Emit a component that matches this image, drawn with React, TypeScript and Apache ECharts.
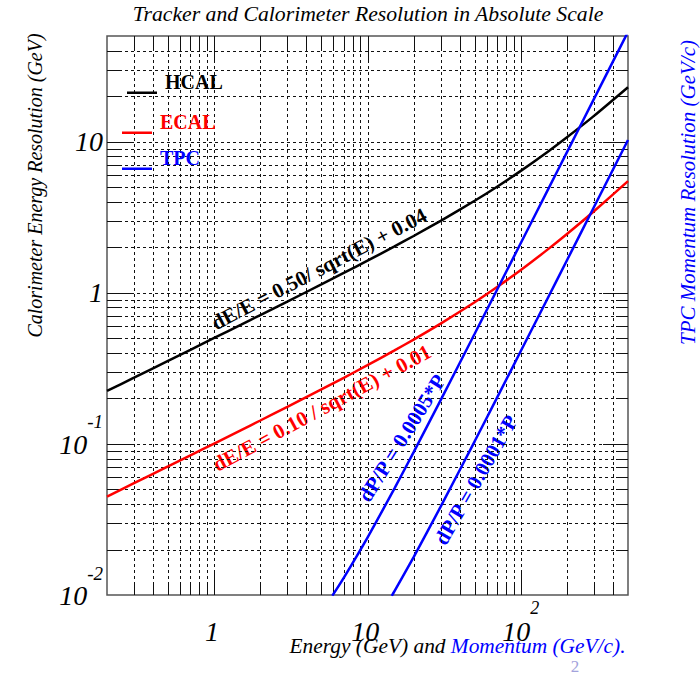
import React, { useEffect, useRef } from "react";
import * as echarts from "echarts";

// ---- data ----
const ENERGY = [0.2, 0.3, 0.5, 0.7, 1, 1.5, 2, 3, 5, 7, 10, 15, 20, 30, 50, 70, 100, 150, 200, 300, 500];
const HCAL_RES = [0.224, 0.274, 0.354, 0.419, 0.502, 0.615, 0.712, 0.874, 1.136, 1.352, 1.631, 2.027, 2.375, 2.99, 4.062, 5.034, 6.403, 8.573, 10.68, 14.8, 22.91];
const ECAL_RES = [0.0448, 0.0549, 0.0709, 0.084, 0.1005, 0.1234, 0.1428, 0.1758, 0.2291, 0.2737, 0.3317, 0.4153, 0.4899, 0.6245, 0.866, 1.091, 1.414, 1.937, 2.449, 3.464, 5.477];
const TPC_A_MOMENTUM = [5.9, 7, 10, 15, 20, 30, 50, 70, 100, 150, 200, 300, 500];
const TPC_A_RES = [0.0099, 0.013, 0.024, 0.0508, 0.0881, 0.1946, 0.5354, 1.047, 2.133, 4.795, 8.52, 19.17, 53.25];
const TPC_B_MOMENTUM = [14.4, 15, 20, 30, 50, 70, 100, 150, 200, 300, 500];
const TPC_B_RES = [0.00988, 0.0106, 0.0178, 0.0384, 0.104, 0.2024, 0.4115, 0.924, 1.642, 3.692, 10.25];

const X_MIN = 0.2;
const X_MAX = 500;
const Y_MIN = 0.01;
const Y_MAX = 50;

const X_MAJOR = [1, 10, 100];
const X_MINOR = [0.3, 0.4, 0.5, 0.6, 0.7, 0.8, 0.9, 2, 3, 4, 5, 6, 7, 8, 9, 20, 30, 40, 50, 60, 70, 80, 90, 200, 300, 400];
const Y_MAJOR = [0.1, 1, 10];
const Y_MINOR = [0.02, 0.03, 0.04, 0.05, 0.06, 0.07, 0.08, 0.09, 0.2, 0.3, 0.4, 0.5, 0.6, 0.7, 0.8, 0.9, 2, 3, 4, 5, 6, 7, 8, 9, 20, 30, 40];

const X_LABEL_TICKS = [1, 10, 100];
const X_LABEL_BASE = ["1", "10", "10"];
const X_LABEL_EXP = ["", "", "2"];
const Y_LABEL_TICKS = [0.01, 0.1, 1, 10];
const Y_LABEL_BASE = ["10", "10", "1", "10"];
const Y_LABEL_EXP = ["-2", "-1", "", ""];

const TITLE = "Tracker and Calorimeter Resolution in Absolute Scale";
const Y_TITLE = "Calorimeter Energy Resolution (GeV)";
const Y2_TITLE = "TPC Momentum Resolution (GeV/c)";
const X_TITLE_A = "Energy (GeV) and ";
const X_TITLE_B = "Momentum (GeV/c).";

const FONT = "'Liberation Serif', 'Times New Roman', serif";

function findIdx(ticks: number[], v: number) {
  for (let i = 0; i < ticks.length; i++) {
    if (Math.abs(v - ticks[i]) < ticks[i] * 1e-6) return i;
  }
  return -1;
}

function zip(xs: number[], ys: number[]) {
  return xs.map((x, i) => [x, ys[i]]);
}

const LEGEND_ICON = "path://M0,0L30,0L30,0.01L0,0.01Z M0,21.5L30,21.5L30,24L0,24Z";

export default function App() {
  const ref = useRef<HTMLDivElement>(null);
  useEffect(() => {
    if (!ref.current) return;
    const chart = echarts.init(ref.current, null, { renderer: "svg" });
    const labelItalic = { fontFamily: FONT, fontStyle: "italic", color: "#000" };
    const legendText = (color: string) => ({
      fontFamily: FONT, fontWeight: "bold", fontSize: 20, color, padding: [0, 0, 0, 3],
    });
    const option: any = {
      animation: false,
      backgroundColor: "#ffffff",
      title: {
        text: TITLE,
        left: 368,
        top: 3,
        textAlign: "center",
        padding: 0,
        textStyle: { fontFamily: FONT, fontStyle: "italic", fontWeight: "normal", fontSize: 21.7, color: "#000" },
      },
      grid: {
        left: 107,
        top: 36,
        width: 521,
        height: 559,
        show: true,
        borderColor: "#555",
        borderWidth: 1.5,
        backgroundColor: "transparent",
        containLabel: false,
        outerBoundsMode: "none",
      },
      xAxis: {
        type: "log",
        logBase: 10,
        min: X_MIN,
        max: X_MAX,
        axisLine: { show: false },
        axisTick: { show: false },
        splitLine: { show: false },
        axisLabel: {
          margin: 4,
          formatter: (v: number) => {
            const i = findIdx(X_LABEL_TICKS, v);
            if (i < 0) return "";
            return `{b|${X_LABEL_BASE[i]}}{s|${X_LABEL_EXP[i] || " "}}`;
          },
          rich: {
            b: { ...labelItalic, fontSize: 28, verticalAlign: "bottom" },
            s: { ...labelItalic, fontSize: 18, verticalAlign: "top", padding: [0, 0, 28, 0] },
          },
        },
        name: `{a|${X_TITLE_A}}{b|${X_TITLE_B}}`,
        nameLocation: "middle",
        nameGap: 40,
        nameMoveOverlap: false,
        nameTextStyle: {
          padding: [0, 0, 0, 180],
          rich: {
            a: { fontFamily: FONT, fontStyle: "italic", fontSize: 21.4, color: "#000" },
            b: { fontFamily: FONT, fontStyle: "italic", fontSize: 21.4, color: "#0000ff" },
          },
        },
      },
      yAxis: [
        {
          type: "log",
          logBase: 10,
          min: Y_MIN,
          max: Y_MAX,
          position: "left",
          axisLine: { show: false },
          axisTick: { show: false },
          splitLine: { show: false },
          axisLabel: {
            margin: 4,
            formatter: (v: number) => {
              const i = findIdx(Y_LABEL_TICKS, v);
              if (i < 0) return "";
              if (Y_LABEL_EXP[i]) return `{b|${Y_LABEL_BASE[i]}}{s|${Y_LABEL_EXP[i]}}`;
              return `{p|${Y_LABEL_BASE[i]}}`;
            },
            rich: {
              p: { ...labelItalic, fontSize: 28 },
              b: { ...labelItalic, fontSize: 28, verticalAlign: "bottom", padding: [0, 0, 17, 0] },
              s: { ...labelItalic, fontSize: 19, verticalAlign: "top", padding: [0, 0, 44, 0] },
            },
          },
          name: Y_TITLE,
          nameLocation: "middle",
          nameGap: 62,
          nameMoveOverlap: false,
          nameTextStyle: { fontFamily: FONT, fontStyle: "italic", fontSize: 20, color: "#000", padding: [0, 0, 0, 260] },
        },
        {
          type: "log",
          logBase: 10,
          min: Y_MIN,
          max: Y_MAX,
          position: "right",
          axisLine: { show: false },
          axisTick: { show: false },
          splitLine: { show: false },
          axisLabel: { show: false },
          name: Y2_TITLE,
          nameLocation: "middle",
          nameGap: 49,
          nameMoveOverlap: false,
          nameTextStyle: { fontFamily: FONT, fontStyle: "italic", fontSize: 21, color: "#0000ff", padding: [0, 0, 0, 246] },
        },
      ],
      legend: [
        {
          data: ["HCAL"], left: 127, top: 70, padding: 0, selectedMode: false,
          icon: LEGEND_ICON, itemWidth: 30, itemHeight: 24,
          textStyle: legendText("#000"),
        },
        {
          data: ["ECAL"], left: 122, top: 110, padding: 0, selectedMode: false,
          icon: LEGEND_ICON, itemWidth: 30, itemHeight: 24,
          textStyle: legendText("#ff0000"),
        },
        {
          data: ["TPC"], left: 122, top: 146, padding: 0, selectedMode: false,
          icon: LEGEND_ICON, itemWidth: 30, itemHeight: 24,
          textStyle: legendText("#0000ff"),
        },
      ],
      graphic: [
        {
          type: "text", x: 319, y: 269, rotation: (27.5 * Math.PI) / 180, silent: true,
          style: { text: "dE/E = 0.50/ sqrt(E) + 0.04", fill: "#000", fontFamily: FONT, fontWeight: "bold", fontSize: 21, align: "center", verticalAlign: "middle" },
        },
        {
          type: "text", x: 322, y: 408, rotation: (28.3 * Math.PI) / 180, silent: true,
          style: { text: "dE/E = 0.10 / sqrt(E) + 0.01", fill: "#ff0000", fontFamily: FONT, fontWeight: "bold", fontSize: 21, align: "center", verticalAlign: "middle" },
        },
        {
          type: "text", x: 402, y: 438, rotation: (58 * Math.PI) / 180, silent: true,
          style: { text: "dP/P = 0.0005*P", fill: "#0000ff", fontFamily: FONT, fontWeight: "bold", fontSize: 21, align: "center", verticalAlign: "middle" },
        },
        {
          type: "text", x: 476, y: 480, rotation: (60 * Math.PI) / 180, silent: true,
          style: { text: "dP/P = 0.0001*P", fill: "#0000ff", fontFamily: FONT, fontWeight: "bold", fontSize: 21, align: "center", verticalAlign: "middle" },
        },
        {
          type: "text", x: 575, y: 666, silent: true,
          style: { text: "2", fill: "#a3a3dc", fontFamily: FONT, fontSize: 17, align: "center", verticalAlign: "middle" },
        },
      ],
      series: [
        {
          type: "custom",
          name: "frame-grid",
          coordinateSystem: "cartesian2d",
          silent: true,
          clip: false,
          z: 1,
          data: [[1, 1]],
          renderItem: (_params: any, api: any) => {
            const children: any[] = [];
            const p0 = api.coord([X_MIN, Y_MIN]);
            const p1 = api.coord([X_MAX, Y_MAX]);
            const left = p0[0], bottom = p0[1], right = p1[0], top = p1[1];
            const dash = { stroke: "#111", lineWidth: 1, lineDash: [3, 3] };
            const tick = { stroke: "#111", lineWidth: 1 };
            const xs = (v: number) => Math.round(api.coord([v, Y_MIN])[0]) + 0.5;
            const ys = (v: number) => Math.round(api.coord([X_MIN, v])[1]) + 0.5;
            [...X_MAJOR, ...X_MINOR].forEach((v) => {
              const x = xs(v);
              children.push({ type: "line", shape: { x1: x, y1: top, x2: x, y2: bottom }, style: dash });
            });
            [...Y_MAJOR, ...Y_MINOR].forEach((v) => {
              const y = ys(v);
              children.push({ type: "line", shape: { x1: left, y1: y, x2: right, y2: y }, style: dash });
            });
            const addX = (v: number, len: number) => {
              const x = xs(v);
              children.push({ type: "line", shape: { x1: x, y1: bottom, x2: x, y2: bottom - len }, style: tick });
              children.push({ type: "line", shape: { x1: x, y1: top, x2: x, y2: top + len }, style: tick });
            };
            const addY = (v: number, len: number) => {
              const y = ys(v);
              children.push({ type: "line", shape: { x1: left, y1: y, x2: left + len, y2: y }, style: tick });
              children.push({ type: "line", shape: { x1: right, y1: y, x2: right - len, y2: y }, style: tick });
            };
            X_MAJOR.forEach((v) => addX(v, 25));
            X_MINOR.forEach((v) => addX(v, 12));
            Y_MAJOR.forEach((v) => addY(v, 25));
            Y_MINOR.forEach((v) => addY(v, 12));
            return { type: "group", children };
          },
        },
        {
          type: "line", name: "HCAL", data: zip(ENERGY, HCAL_RES), showSymbol: false, smooth: 0.2,
          color: "#000000", lineStyle: { color: "#000000", width: 2.5 }, silent: true, z: 3,
        },
        {
          type: "line", name: "ECAL", data: zip(ENERGY, ECAL_RES), showSymbol: false, smooth: 0.2,
          color: "#ff0000", lineStyle: { color: "#ff0000", width: 2.5 }, silent: true, z: 3,
        },
        {
          type: "line", name: "TPC", yAxisIndex: 1, data: zip(TPC_A_MOMENTUM, TPC_A_RES), showSymbol: false, smooth: 0.2,
          color: "#0000ff", lineStyle: { color: "#0000ff", width: 2.5 }, silent: true, z: 3,
        },
        {
          type: "line", name: "TPC", yAxisIndex: 1, data: zip(TPC_B_MOMENTUM, TPC_B_RES), showSymbol: false, smooth: 0.2,
          color: "#0000ff", lineStyle: { color: "#0000ff", width: 2.5 }, silent: true, z: 3,
        },
      ],
    };
    chart.setOption(option);
    return () => chart.dispose();
  }, []);
  return (
    <div
      ref={ref}
      style={{ position: "absolute", left: 0, top: 0, width: 700, height: 675, background: "#fff" }}
    />
  );
}
